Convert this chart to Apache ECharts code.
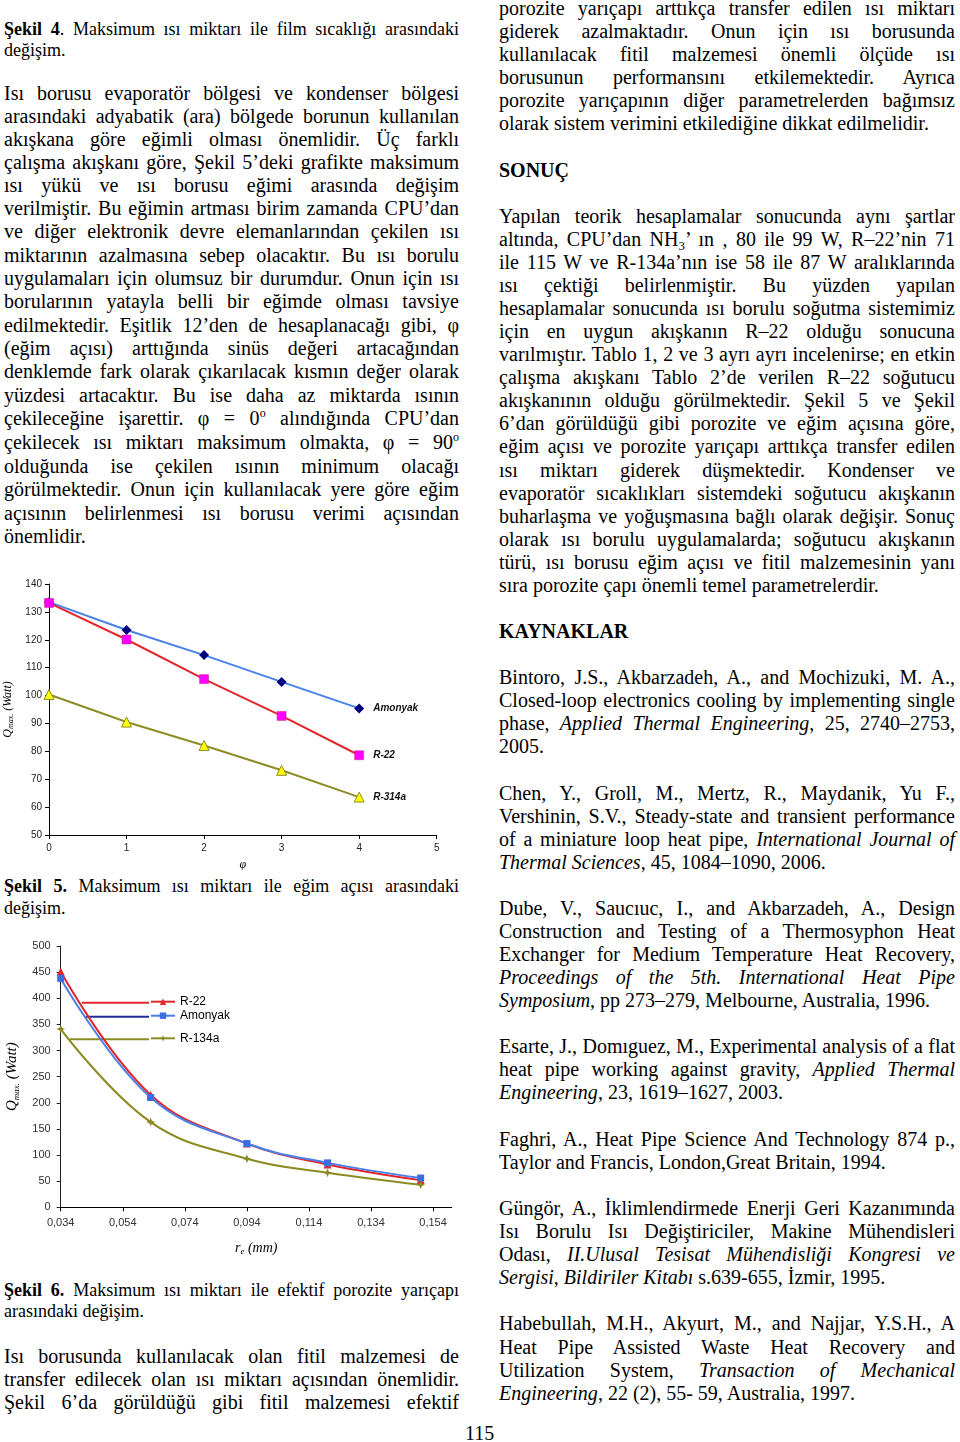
<!DOCTYPE html>
<html><head><meta charset="utf-8">
<script src="https://cdn.jsdelivr.net/npm/echarts@6/dist/echarts.min.js"></script>
<style>
html,body{margin:0;padding:0;background:#fff;}
#page{position:relative;width:960px;height:1442px;overflow:hidden;font-family:"Liberation Serif","Times New Roman",serif;color:#000;}
.ln{position:absolute;white-space:nowrap;font-size:20px;line-height:23px;}
.cap{font-size:18px;line-height:21px;}
.chart{position:absolute;}
sup{font-size:12px;vertical-align:0;position:relative;top:-8px;}
sub{font-size:13px;vertical-align:0;position:relative;top:4px;}
</style></head>
<body><div id="page">
<div id="c1" class="chart" style="left:0;top:570px;width:460px;height:300px;"></div>
<div id="c2" class="chart" style="left:0;top:930px;width:460px;height:330px;"></div>
</div>
<script>
// ---------- DATA: Şekil 5 ----------
const fig5Phi = [0, 1, 2, 3, 4];
const fig5Amonyak = [133.5, 123.5, 114.5, 104.9, 95.4];
const fig5R22 = [133.2, 120.1, 105.9, 92.7, 78.6];
const fig5R314a = [100.4, 90.5, 82.1, 73.2, 63.6];
const fig5Names = ['Amonyak', 'R-22', 'R-314a'];
// ---------- DATA: Şekil 6 ----------
const fig6Re = [0.034, 0.063, 0.094, 0.120, 0.150];
const fig6R22 = [451, 215, 122, 82, 52];
const fig6Amonyak = [438, 210, 122, 85, 56];
const fig6R134a = [341, 163, 93, 66, 43];
const fig6Names = ['R-22', 'Amonyak', 'R-134a'];

// ---------- TEXT ----------
const leftCol = {x: 4, w: 455};
const rightCol = {x: 499, w: 456};
const leftLines = [
 [29, '<b>Şekil 4</b>. Maksimum ısı miktarı ile film sıcaklığı arasındaki', 1, 'cap'],
 [50, 'değişim.', 0, 'cap'],
 [93, 'Isı borusu evaporatör bölgesi ve kondenser bölgesi', 1],
 [116, 'arasındaki adyabatik (ara) bölgede borunun kullanılan', 1],
 [139, 'akışkana göre eğimli olması önemlidir. Üç farklı', 1],
 [162, 'çalışma akışkanı göre, Şekil 5’deki grafikte maksimum', 1],
 [185, 'ısı yükü ve ısı borusu eğimi arasında değişim', 1],
 [208, 'verilmiştir. Bu eğimin artması birim zamanda CPU’dan', 1],
 [231, 've diğer elektronik devre elemanlarından çekilen ısı', 1],
 [255, 'miktarının azalmasına sebep olacaktır. Bu ısı borulu', 1],
 [278, 'uygulamaları için olumsuz bir durumdur. Onun için ısı', 1],
 [301, 'borularının yatayla belli bir eğimde olması tavsiye', 1],
 [325, 'edilmektedir. Eşitlik 12’den de hesaplanacağı gibi, φ', 1],
 [348, '(eğim açısı) arttığında sinüs değeri artacağından', 1],
 [371, 'denklemde fark olarak çıkarılacak kısmın değer olarak', 1],
 [395, 'yüzdesi artacaktır. Bu ise daha az miktarda ısının', 1],
 [418, 'çekileceğine işarettir. φ = 0<sup>o</sup> alındığında CPU’dan', 1],
 [442, 'çekilecek ısı miktarı maksimum olmakta, φ = 90<sup>o</sup>', 1],
 [466, 'olduğunda ise çekilen ısının minimum olacağı', 1],
 [489, 'görülmektedir. Onun için kullanılacak yere göre eğim', 1],
 [513, 'açısının belirlenmesi ısı borusu verimi açısından', 1],
 [536, 'önemlidir.', 0],
 [886, '<b>Şekil 5.</b> Maksimum ısı miktarı ile eğim açısı arasındaki', 1, 'cap'],
 [908, 'değişim.', 0, 'cap'],
 [1290, '<b>Şekil 6.</b> Maksimum ısı miktarı ile efektif porozite yarıçapı', 1, 'cap'],
 [1311, 'arasındaki değişim.', 0, 'cap'],
 [1356, 'Isı borusunda kullanılacak olan fitil malzemesi de', 1],
 [1379, 'transfer edilecek olan ısı miktarı açısından önemlidir.', 1],
 [1402, 'Şekil 6’da görüldüğü gibi fitil malzemesi efektif', 1]
];
const rightLines = [
 [8, 'porozite yarıçapı arttıkça transfer edilen ısı miktarı', 1],
 [31, 'giderek azalmaktadır. Onun için ısı borusunda', 1],
 [54, 'kullanılacak fitil malzemesi önemli ölçüde ısı', 1],
 [77, 'borusunun performansını etkilemektedir. Ayrıca', 1],
 [100, 'porozite yarıçapının diğer parametrelerden bağımsız', 1],
 [123, 'olarak sistem verimini etkilediğine dikkat edilmelidir.', 0],
 [170, '<b>SONUÇ</b>', 0],
 [216, 'Yapılan teorik hesaplamalar sonucunda aynı şartlar', 1],
 [239, 'altında, CPU’dan NH<sub>3</sub>’ ın , 80 ile 99 W, R–22’nin 71', 1],
 [262, 'ile 115 W ve R-134a’nın ise 58 ile 87 W aralıklarında', 1],
 [285, 'ısı çektiği belirlenmiştir. Bu yüzden yapılan', 1],
 [308, 'hesaplamalar sonucunda ısı borulu soğutma sistemimiz', 1],
 [331, 'için en uygun akışkanın R–22 olduğu sonucuna', 1],
 [354, 'varılmıştır. Tablo 1, 2 ve 3 ayrı ayrı incelenirse; en etkin', 1],
 [377, 'çalışma akışkanı Tablo 2’de verilen R–22 soğutucu', 1],
 [400, 'akışkanının olduğu görülmektedir. Şekil 5 ve Şekil', 1],
 [423, '6’dan görüldüğü gibi porozite ve eğim açısına göre,', 1],
 [446, 'eğim açısı ve porozite yarıçapı arttıkça transfer edilen', 1],
 [470, 'ısı miktarı giderek düşmektedir. Kondenser ve', 1],
 [493, 'evaporatör sıcaklıkları sistemdeki soğutucu akışkanın', 1],
 [516, 'buharlaşma ve yoğuşmasına bağlı olarak değişir. Sonuç', 1],
 [539, 'olarak ısı borulu uygulamalarda; soğutucu akışkanın', 1],
 [562, 'türü, ısı borusu eğim açısı ve fitil malzemesinin yanı', 1],
 [585, 'sıra porozite çapı önemli temel parametrelerdir.', 0],
 [631, '<b>KAYNAKLAR</b>', 0],
 [677, 'Bintoro, J.S., Akbarzadeh, A., and Mochizuki, M. A.,', 1],
 [700, 'Closed-loop electronics cooling by implementing single', 1],
 [723, 'phase, <i>Applied Thermal Engineering</i>, 25, 2740–2753,', 1],
 [746, '2005.', 0],
 [793, 'Chen, Y., Groll, M., Mertz, R., Maydanik, Yu F.,', 1],
 [816, 'Vershinin, S.V., Steady-state and transient performance', 1],
 [839, 'of a miniature loop heat pipe, <i>International Journal of</i>', 1],
 [862, '<i>Thermal Sciences,</i> 45, 1084–1090, 2006.', 0],
 [908, 'Dube, V., Saucıuc, I., and Akbarzadeh, A., Design', 1],
 [931, 'Construction and Testing of a Thermosyphon Heat', 1],
 [954, 'Exchanger for Medium Temperature Heat Recovery,', 1],
 [977, '<i>Proceedings of the 5th. International Heat Pipe</i>', 1],
 [1000, '<i>Symposium</i>, pp 273–279, Melbourne, Australia, 1996.', 0],
 [1046, 'Esarte, J., Domıguez, M., Experimental analysis of a flat', 1],
 [1069, 'heat pipe working against gravity, <i>Applied Thermal</i>', 1],
 [1092, '<i>Engineering</i>, 23, 1619–1627, 2003.', 0],
 [1139, 'Faghri, A., Heat Pipe Science And Technology 874 p.,', 1],
 [1162, 'Taylor and Francis, London,Great Britain, 1994.', 0],
 [1208, 'Güngör, A., İklimlendirmede Enerji Geri Kazanımında', 1],
 [1231, 'Isı Borulu Isı Değiştiriciler, Makine Mühendisleri', 1],
 [1254, 'Odası, <i>II.Ulusal Tesisat Mühendisliği Kongresi ve</i>', 1],
 [1277, '<i>Sergisi, Bildiriler Kitabı</i> s.639-655, İzmir, 1995.', 0],
 [1323, 'Habebullah, M.H., Akyurt, M., and Najjar, Y.S.H., A', 1],
 [1347, 'Heat Pipe Assisted Waste Heat Recovery and', 1],
 [1370, 'Utilization System, <i>Transaction of Mechanical</i>', 1],
 [1393, '<i>Engineering</i>, 22 (2), 55- 59, Australia, 1997.', 0]
];
const page = document.getElementById('page');
function place(col, lines) {
  lines.forEach(function (l) {
    const y = l[0], html = l[1], just = l[2], cls = l[3];
    const d = document.createElement('div');
    d.className = 'ln' + (cls ? ' ' + cls : '');
    d.style.left = col.x + 'px';
    d.style.top = (y - (cls === 'cap' ? 10.5 : 11)) + 'px';
    d.innerHTML = html;
    page.appendChild(d);
    if (just) {
      const w = d.getBoundingClientRect().width;
      const gaps = d.textContent.trim().split(/\s+/).length - 1;
      if (gaps > 0) d.style.wordSpacing = ((col.w - w) / gaps) + 'px';
    }
  });
}
place(leftCol, leftLines);
place(rightCol, rightLines);
const pn = document.createElement('div');
pn.className = 'ln'; pn.style.left = '465px'; pn.style.top = (1433 - 11) + 'px'; pn.textContent = '115';
page.appendChild(pn);

// ---------- CHART: Şekil 5 ----------
const sans = 'Liberation Sans, Arial, sans-serif';
const serif = 'Liberation Serif, Times New Roman, serif';
const pair = (xs, ys) => xs.map((x, i) => [x, ys[i]]);
const c1 = echarts.init(document.getElementById('c1'));
const endLbl = {show: true, formatter: '{a}', distance: 14, fontSize: 10, fontWeight: 'bold', fontStyle: 'italic', fontFamily: sans, color: '#111'};
c1.setOption({
  animation: false,
  grid: {left: 49, top: 14, right: 23.3, bottom: 35, containLabel: false, outerBoundsMode: 'none'},
  xAxis: {type: 'value', min: 0, max: 5, interval: 1,
    axisLine: {lineStyle: {color: '#000', width: 1}}, axisTick: {show: true, length: 4, lineStyle: {color: '#000'}},
    splitLine: {show: false}, axisLabel: {fontSize: 10, color: '#222', fontFamily: sans, margin: 8},
    name: 'φ', nameLocation: 'middle', nameGap: 24, nameTextStyle: {fontStyle: 'italic', fontFamily: serif, fontSize: 12, color: '#000'}},
  yAxis: {type: 'value', min: 50, max: 140, interval: 10,
    axisLine: {show: true, lineStyle: {color: '#000', width: 1}}, axisTick: {show: true, length: 4, lineStyle: {color: '#000'}},
    splitLine: {show: false}, axisLabel: {fontSize: 10, color: '#222', fontFamily: sans, margin: 7},
    name: '{q|Q}{s|max.}{q| (Watt)}', nameLocation: 'middle', nameGap: 27, nameRotate: 90,
    nameTextStyle: {rich: {q: {fontFamily: serif, fontStyle: 'italic', fontSize: 12, color: '#000', lineHeight: 14, verticalAlign: 'middle'},
                           s: {fontFamily: serif, fontStyle: 'italic', fontSize: 8, color: '#000', lineHeight: 14, verticalAlign: 'bottom'}}}},
  series: [
    {name: fig5Names[0], type: 'line', data: pair(fig5Phi, fig5Amonyak), symbol: 'diamond', symbolSize: 10,
     lineStyle: {color: '#4a80e8', width: 2}, itemStyle: {color: '#000080'}, endLabel: endLbl},
    {name: fig5Names[1], type: 'line', data: pair(fig5Phi, fig5R22), symbol: 'rect', symbolSize: 9,
     lineStyle: {color: '#e3262b', width: 2}, itemStyle: {color: '#ff00ff', borderColor: '#c02080', borderWidth: 0.5}, endLabel: endLbl},
    {name: fig5Names[2], type: 'line', data: pair(fig5Phi, fig5R314a), symbol: 'triangle', symbolSize: 10,
     lineStyle: {color: '#8c8c28', width: 2}, itemStyle: {color: '#ffff00', borderColor: '#8c8c28', borderWidth: 1}, endLabel: endLbl}
  ]
});

// ---------- CHART: Şekil 6 ----------
const c2 = echarts.init(document.getElementById('c2'));
const star = 'path://M0,-10 L2.8,-2.8 L10,0 L2.8,2.8 L0,10 L-2.8,2.8 L-10,0 L-2.8,-2.8 Z';
const lgText = {fontSize: 12, fontFamily: sans, color: '#000'};
const lg = (name, top) => ({data: [name], left: 150, top: top, padding: 0, itemWidth: 24, itemHeight: 8, itemGap: 0, textStyle: lgText, selectedMode: false});
c2.setOption({
  animation: false,
  grid: {left: 60.7, top: 16, right: 8.3, bottom: 52.7, containLabel: false, outerBoundsMode: 'none'},
  legend: [lg(fig6Names[0], 65.7), lg(fig6Names[1], 79.7), lg(fig6Names[2], 102.3)],
  graphic: [
    {type: 'line', shape: {x1: 82, y1: 72.7, x2: 149, y2: 72.7}, style: {stroke: '#e3262b', lineWidth: 2}},
    {type: 'line', shape: {x1: 86, y1: 86.7, x2: 149, y2: 86.7}, style: {stroke: '#1c2c9c', lineWidth: 2}},
    {type: 'line', shape: {x1: 70, y1: 109.3, x2: 149, y2: 109.3}, style: {stroke: '#8b8b22', lineWidth: 2}}
  ],
  xAxis: {type: 'value', min: 0.034, max: 0.16, interval: 0.02,
    axisLine: {lineStyle: {color: '#000', width: 1}}, axisTick: {show: true, length: 4, lineStyle: {color: '#000'}},
    splitLine: {show: false},
    axisLabel: {fontSize: 11, color: '#333', fontFamily: sans, margin: 10, showMaxLabel: false,
      formatter: v => (v > 0.155 ? '' : v.toFixed(3).replace('.', ','))},
    name: '{q|r}{s|e}{q| (mm)}', nameLocation: 'middle', nameGap: 33,
    nameTextStyle: {rich: {q: {fontFamily: serif, fontStyle: 'italic', fontSize: 14, color: '#000', lineHeight: 16, verticalAlign: 'middle'},
                           s: {fontFamily: serif, fontStyle: 'italic', fontSize: 9, color: '#000', lineHeight: 16, verticalAlign: 'bottom'}}}},
  yAxis: {type: 'value', min: 0, max: 500, interval: 50,
    axisLine: {show: true, lineStyle: {color: '#222', width: 1}}, axisTick: {show: true, length: 4, lineStyle: {color: '#222'}},
    splitLine: {show: false}, axisLabel: {fontSize: 11, color: '#333', fontFamily: sans, margin: 10},
    name: '{q|Q}{s|max.}{q| (Watt)}', nameLocation: 'middle', nameGap: 38, nameRotate: 90,
    nameTextStyle: {rich: {q: {fontFamily: serif, fontStyle: 'italic', fontSize: 15, color: '#000', lineHeight: 18, verticalAlign: 'middle'},
                           s: {fontFamily: serif, fontStyle: 'italic', fontSize: 9, color: '#000', lineHeight: 18, verticalAlign: 'bottom'}}}},
  series: [
    {name: fig6Names[0], type: 'line', smooth: 0.4, data: pair(fig6Re, fig6R22), symbol: 'triangle', symbolSize: 8,
     lineStyle: {color: '#e3262b', width: 2}, itemStyle: {color: '#e3262b'}},
    {name: fig6Names[1], type: 'line', smooth: 0.4, data: pair(fig6Re, fig6Amonyak), symbol: 'rect', symbolSize: 7,
     lineStyle: {color: '#4a80e8', width: 2}, itemStyle: {color: '#3a6ee0'}},
    {name: fig6Names[2], type: 'line', smooth: 0.4, data: pair(fig6Re, fig6R134a), symbol: star, symbolSize: 9,
     lineStyle: {color: '#8b8b22', width: 2}, itemStyle: {color: '#8b8b22'}}
  ]
});
</script>
</body></html>
